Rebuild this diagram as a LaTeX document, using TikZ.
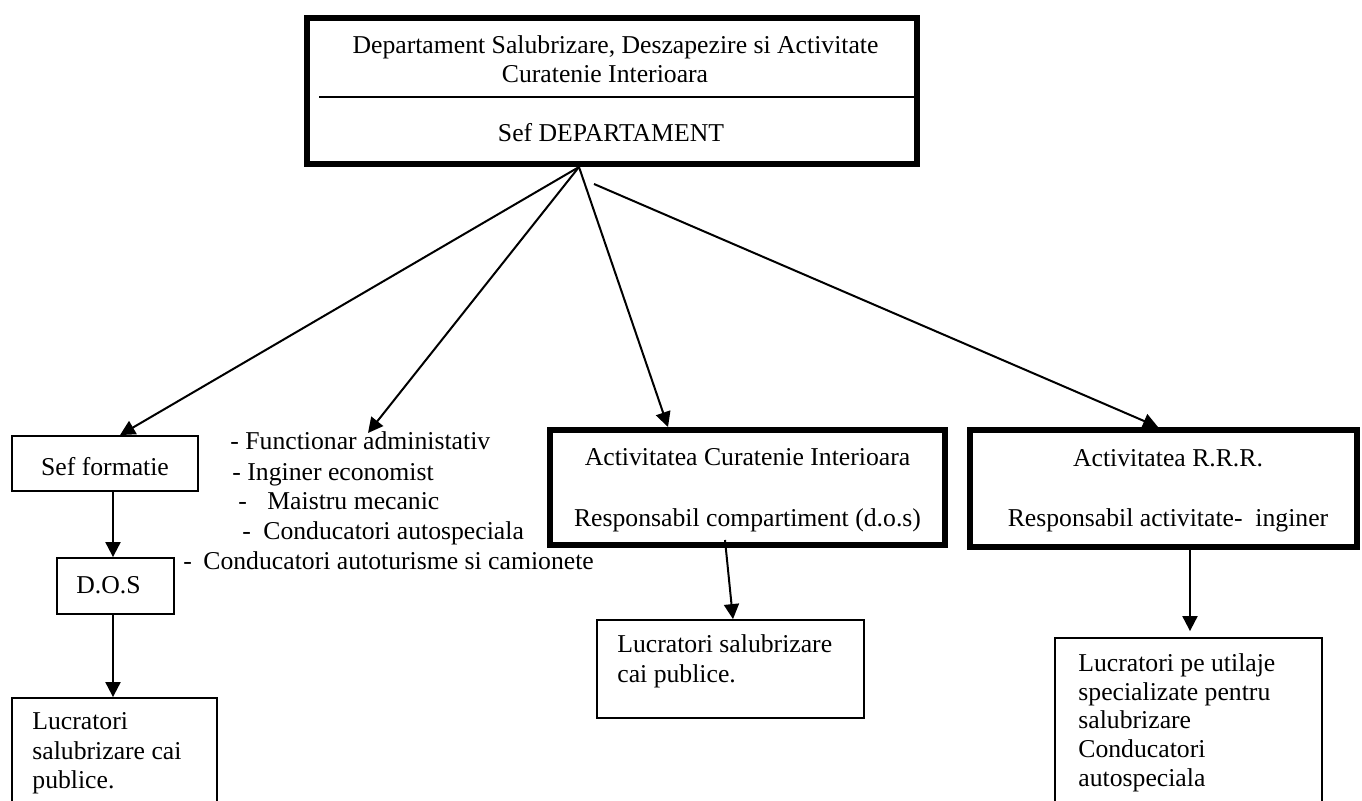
\documentclass[tikz,border=0pt]{standalone}
\usepackage{fontspec}
\setmainfont{Liberation Serif}
\usetikzlibrary{arrows.meta}
\begin{document}
\begin{tikzpicture}[x=0.5pt,y=-0.5pt,
  every node/.style={font=\fontsize{12.85pt}{14.5pt}\selectfont},
  heavybox/.style={draw, line width=3pt, inner sep=0pt},
  lightbox/.style={draw, line width=0.9pt, inner sep=0pt},
  txt/.style={inner sep=0pt, anchor=base},
  txtl/.style={inner sep=0pt, anchor=base west},
  arr/.style={line width=1pt, -{Triangle[length=7.5pt,width=7.5pt]}}
]
\useasboundingbox (0,0) rectangle (1362,801);
\clip (0,0) rectangle (1362,801);

% top box
\node[heavybox, minimum width=305pt, minimum height=73pt] (top) at (612,91) {};
\node[txt] (top1) at (615.5,54) {Departament Salubrizare, Deszapezire si Activitate};
\node[txt] (top2) at (605,83) {Curatenie Interioara};
\node[txt] (top3) at (611,142) {Sef DEPARTAMENT};
\draw[line width=0.9pt] (319,97) -- (915,97);

% left column
\node[lightbox, minimum width=93pt, minimum height=27.5pt] (sf) at (105,463.5) {};
\node[txt] (sft) at (105,476) {Sef formatie};
\node[lightbox, minimum width=58.5pt, minimum height=28pt] (dos) at (115.5,586) {};
\node[txt] (dost) at (108.5,594) {D.O.S};
\node[lightbox, minimum width=102.5pt, minimum height=66pt] (l1) at (114.5,764) {};
\node[txtl] (l1a) at (32,730) {Lucratori};
\node[txtl] (l1b) at (32,760) {salubrizare cai};
\node[txtl] (l1c) at (32,789) {publice.};

% list
\node[txtl] (i1) at (230,450) {- Functionar administativ};
\node[txtl] (i2) at (232,481) {- Inginer economist};
\node[txtl] (i3) at (238,510) {\makebox[14.5pt][l]{-}Maistru mecanic};
\node[txtl] (i4) at (242,540) {\makebox[10.5pt][l]{-}Conducatori autospeciala};
\node[txtl] (i5) at (183,570) {\makebox[10pt][l]{-}Conducatori autoturisme si camionete};
\coordinate (listtip) at (368,433);

% curatenie
\node[heavybox, minimum width=197.5pt, minimum height=57.5pt] (cur) at (747.5,487.5) {};
\node[txt] (cura) at (747.5,466) {Activitatea Curatenie Interioara};
\node[txt] (curb) at (747.5,527) {Responsabil compartiment (d.o.s)};
\node[lightbox, minimum width=133.5pt, minimum height=49pt] (l2) at (730.5,669) {};
\node[txtl] (l2a) at (617,653) {Lucratori salubrizare};
\node[txtl] (l2b) at (617,683) {cai publice.};

% RRR
\node[heavybox, minimum width=193.5pt, minimum height=58.5pt] (rrr) at (1163.5,488.5) {};
\node[txt] (rrra) at (1168,467) {Activitatea R.R.R.};
\node[txt] (rrrb) at (1168,527) {Responsabil activitate-\ \ inginer};
\node[lightbox, minimum width=133.5pt, minimum height=101pt] (l3) at (1188.5,739) {};
\node[txtl] (l3a) at (1078,672) {Lucratori pe utilaje};
\node[txtl] (l3b) at (1078,701) {specializate pentru};
\node[txtl] (l3c) at (1078,729) {salubrizare};
\node[txtl] (l3d) at (1078,758) {Conducatori};
\node[txtl] (l3e) at (1078,787) {autospeciala};

% connectors
\coordinate (o1) at ([xshift=-16.5pt]top.south);
\coordinate (o2) at ([xshift=-9pt,yshift=-8.5pt]top.south);
\draw[arr] (o1) -- ([xshift=7.5pt]sf.north);
\draw[arr] (o1) -- (listtip);
\draw[arr] (o1) -- ([xshift=-39.75pt]cur.north);
\draw[arr] (o2) -- ([xshift=-2.75pt]rrr.north);
\draw[arr] ([xshift=4pt]sf.south) -- ([xshift=4pt]sf.south |- dos.north);
\draw[arr] ([xshift=-1.25pt]dos.south) -- ([xshift=-1.25pt]dos.south |- l1.north);
\draw[arr] ([xshift=-11.25pt,yshift=4pt]cur.south) -- ([xshift=1.25pt]l2.north);
\draw[arr, shorten >=3pt] ([xshift=13.25pt]rrr.south) -- ([xshift=13.25pt]rrr.south |- l3.north);
\end{tikzpicture}
\end{document}
